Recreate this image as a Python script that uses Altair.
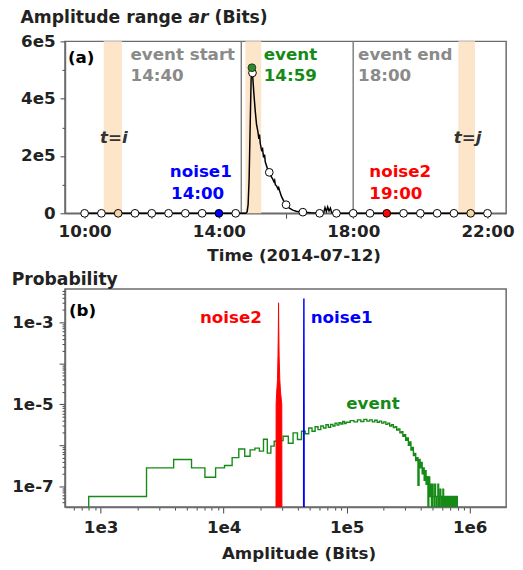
import altair as alt
import numpy as np
import pandas as pd

FONT = "DejaVu Sans"
INK = "#222222"
FRAME = "#6b6b6b"
GREEN = "#168a16"
GRAY_TXT = "#8a8a8a"
BAND = "#fde5ca"
TAN = "#f3d5a8"

# ---------------- panel (a): amplitude range time series ----------------
sample_hours = [10.0, 10.5, 11.0, 11.5, 12.0, 12.5, 13.0, 13.5, 14.0, 14.5, 15.0, 15.5,
                16.0, 16.5, 17.0, 17.5, 18.0, 18.5, 19.0, 19.5, 20.0, 20.5, 21.0, 21.5, 22.0]
sample_values = [0, 0, 0, 0, 0, 0, 0, 0, 0, 0, 4.9e5, 1.43e5,
                 0.3e5, 0.04e5, 0, 0, 0, 0, 0, 0, 0, 0, 0, 0, 0]
sample_fill = ["white", "white", TAN, "white", "white", "white", "white", "white", "blue", "white",
               "white", "white", "white", "white", "white", "white", "white", "white", "red", "white",
               "white", "white", "white", TAN, "white"]

line_hours = [10.0, 14.80, 14.84, 14.87, 14.90, 14.93, 14.96, 14.983, 15.0, 15.04, 15.08, 15.12,
              15.16, 15.19, 15.21, 15.23, 15.27, 15.30, 15.33, 15.36, 15.38, 15.42, 15.46, 15.50,
              15.55, 15.60, 15.64, 15.66, 15.68, 15.72, 15.76, 15.78, 15.81, 15.86, 15.92, 16.0,
              16.1, 16.2, 16.3, 16.5, 16.75, 17.0, 17.12, 17.16, 17.2, 17.24, 17.28, 17.32,
              17.36, 17.45, 18.0, 22.0]
line_values_e5 = [0, 0, 0.05, 0.3, 1.2, 3.0, 4.7, 5.08, 4.9, 4.2, 3.6, 3.1,
                  2.86, 2.6, 2.75, 2.45, 2.2, 2.25, 1.95, 2.05, 1.8, 1.65, 1.5, 1.43,
                  1.3, 1.2, 1.1, 1.15, 1.0, 0.95, 0.85, 0.9, 0.78, 0.6, 0.45, 0.3,
                  0.18, 0.11, 0.07, 0.04, 0.02, 0.01, 0.01, 0.2, 0.06, 0.22, 0.08, 0.18,
                  0.02, 0.0, 0, 0]

event_hour = [14 + 59 / 60]
event_value = [5.08e5]

band_start = [10.57, 14.79, 21.13]
band_end = [11.11, 15.26, 21.63]
marker_hours = [14 + 40 / 60, 18.0]

# ---------------- panel (b): amplitude histograms ----------------
low_width, mid_width, high_width = 1560, 3120, 7800
low_values = [5.6e-8, 2.8e-7, 4.5e-7, 2.8e-7, 1.65e-7, 2.8e-7, 3.2e-7, 5.0e-7, 8.1e-7, 5.4e-7,
              7.7e-7, 8.5e-7, 7.2e-7, 1.4e-6, 6.4e-7, 9.5e-7, 1.25e-6, 1.0e-6, 1.3e-6]
mid_values = [1.66e-6, 1.12e-6, 2.0e-6, 1.38e-6, 2.19e-6, 1.91e-6, 2.63e-6, 2.19e-6, 2.82e-6, 2.4e-6,
              2.95e-6, 2.63e-6, 3.16e-6, 2.75e-6, 3.24e-6, 2.95e-6, 3.47e-6, 3.09e-6, 3.55e-6, 3.31e-6,
              3.8e-6, 3.39e-6]
high_values = [3.63e-6, 3.98e-6, 3.72e-6, 4.17e-6, 3.80e-6, 4.27e-6, 3.89e-6, 4.17e-6, 3.72e-6, 4.07e-6,
               3.63e-6, 3.89e-6, 3.47e-6, 3.72e-6, 3.24e-6, 3.47e-6, 2.95e-6, 3.16e-6, 2.69e-6, 2.82e-6,
               2.34e-6, 2.51e-6, 2.0e-6, 2.14e-6, 1.66e-6, 1.82e-6, 1.32e-6, 1.51e-6, 1.0e-6, 1.2e-6,
               7.6e-7, 8.9e-7, 5.6e-7, 6.3e-7, 4.2e-7, 5.0e-7, 1.05e-7, 4.5e-7, 2.8e-7, 3.8e-7,
               2.0e-7, 2.8e-7, 1.4e-7, 2.4e-7, 1.12e-7, 1.7e-7, 0, 1.68e-7, 5.6e-8, 1.12e-7,
               0, 1.12e-7, 5.6e-8, 0, 1.12e-7, 5.6e-8, 0, 5.6e-8, 1.12e-7, 0,
               5.6e-8, 8.4e-8, 0, 5.6e-8, 0, 8.4e-8, 5.6e-8, 0, 5.6e-8, 0,
               5.6e-8, 5.6e-8, 0, 5.6e-8, 0, 5.6e-8, 0, 5.6e-8, 5.6e-8, 0,
               5.6e-8, 0, 5.6e-8, 0, 5.6e-8, 0, 5.6e-8, 0, 5.6e-8, 0]

noise2_amp = [26600, 26700, 27000, 27400, 27650, 27850, 27950, 28050, 28250, 28600, 29000, 29500, 29700, 29800]
noise2_p = [0, 1e-5, 2e-5, 4e-5, 1.5e-4, 8e-4, 3.0e-3, 8e-4, 1.5e-4, 4e-5, 2e-5, 1.2e-5, 1e-5, 0]
noise1_amp = [44700, 44760, 44900, 45040, 45100]
noise1_p = [0, 1e-5, 3.8e-3, 1e-5, 0]

FLOOR = 1e-9

# ---------------- build tables ----------------
df_samples = pd.DataFrame({"hour": sample_hours, "value": sample_values, "fill": sample_fill})
df_line = pd.DataFrame({"hour": line_hours, "value": [v * 1e5 for v in line_values_e5]})
df_event = pd.DataFrame({"hour": event_hour, "value": event_value})
df_bands = pd.DataFrame({"hour": band_start, "hour_end": band_end})
df_marks = pd.DataFrame({"hour": marker_hours})

edges_low = 800 + low_width * np.arange(len(low_values))
start_mid = 800 + low_width * len(low_values)
edges_mid = start_mid + mid_width * np.arange(len(mid_values))
start_high = start_mid + mid_width * len(mid_values)
edges_high = start_high + high_width * np.arange(len(high_values))
last_edge = start_high + high_width * len(high_values)
ev_left = list(edges_low) + list(edges_mid) + list(edges_high)
ev_vals = low_values + mid_values + high_values
ev_x = [ev_left[0]] + ev_left + [last_edge, last_edge]
ev_y = [0] + ev_vals + [ev_vals[-1], 0]
df_ev = pd.DataFrame({"amp": ev_x, "p": [max(v, FLOOR) for v in ev_y], "i": range(len(ev_x))})

df_n2 = pd.DataFrame({"amp": noise2_amp, "p": [max(v, FLOOR) for v in noise2_p], "floor": FLOOR})
df_n1 = pd.DataFrame({"amp": noise1_amp, "p": [max(v, FLOOR) for v in noise1_p], "floor": FLOOR})

xb_ticks = [k * 10.0 ** e for e in range(2, 7) for k in range(1, 10) if 513 <= k * 10.0 ** e <= 1.98e6]
yb_ticks = [k * 10.0 ** e for e in range(-8, -2) for k in range(1, 10) if 3.09e-8 <= k * 10.0 ** e <= 6.53e-3]

IS_POW = "abs(log(datum.value)/LN10 - round(log(datum.value)/LN10)) < 0.001"


def x_a():
    return alt.X("hour:Q", scale=alt.Scale(domain=[9.415, 22.556], nice=False, zero=False),
                 axis=alt.Axis(values=[10, 12, 14, 16, 18, 20, 22],
                               labelExpr="datum.value % 4 == 2 ? datum.value + ':00' : ''",
                               tickSize=5, labelPadding=6,
                               title="Time (2014-07-12)", titleX=232.7, titleY=48,
                               titleBaseline="alphabetic", titleAlign="center"))


def y_a():
    return alt.Y("value:Q", scale=alt.Scale(domain=[0, 6e5], nice=False),
                 axis=alt.Axis(values=[0, 1e5, 2e5, 3e5, 4e5, 5e5, 6e5],
                               labelExpr="datum.value == 0 ? '0' : (datum.value % 200000 == 0 ? (datum.value / 100000) + 'e5' : '')",
                               tickSize={"condition": {"test": "datum.value % 200000 == 0", "value": 5}, "value": 3},
                               labelPadding=5, title=None))


def x_b():
    return alt.X("amp:Q", scale=alt.Scale(type="log", domain=[513, 1.98e6], nice=False),
                 axis=alt.Axis(values=xb_ticks,
                               labelExpr=IS_POW + " ? '1e' + round(log(datum.value)/LN10) : ''",
                               tickSize={"condition": {"test": IS_POW, "value": 6}, "value": 3},
                               labelPadding=7,
                               title="Amplitude (Bits)", titleX=237.7, titleY=52,
                               titleBaseline="alphabetic", titleAlign="center"))


def y_b():
    return alt.Y("p:Q", scale=alt.Scale(type="log", domain=[3.09e-8, 6.53e-3], nice=False),
                 axis=alt.Axis(values=yb_ticks,
                               labelExpr="(" + IS_POW + " && abs(round(log(datum.value)/LN10)) % 2 == 1) ? '1e' + round(log(datum.value)/LN10) : ''",
                               tickSize={"condition": {"test": IS_POW, "value": 6}, "value": 3},
                               labelPadding=6, title=None))


def label(text, x, y, color, size=17, style="normal"):
    return alt.Chart(pd.DataFrame({"t": [text]})).mark_text(
        align="left", baseline="alphabetic", font=FONT, fontSize=size,
        fontWeight="bold", fontStyle=style, color=color
    ).encode(text="t:N", x=alt.value(x), y=alt.value(y))


bands = alt.Chart(df_bands).mark_rect(color=BAND).encode(
    x=x_a(), x2=alt.X2("hour_end:Q"), y=alt.value(0), y2=alt.value("height"))
vlines = alt.Chart(df_marks).mark_rule(color="#7f7f7f", strokeWidth=1.5).encode(x=x_a())
series = alt.Chart(df_line).mark_line(color="black", strokeWidth=1.5).encode(x=x_a(), y=y_a())
points = alt.Chart(df_samples).mark_circle(size=62, stroke="black", strokeWidth=1, opacity=1).encode(
    x=x_a(), y=y_a(), fill=alt.Fill("fill:N", scale=None))
evpt = alt.Chart(df_event).mark_circle(size=62, stroke="#1d3d1d", strokeWidth=1, fill="#2f8a2f", opacity=1).encode(
    x=x_a(), y=y_a())

texts_a = [
    label("Amplitude range", -45.3, -19, INK, 17.5),
    label("ar", 125.7, -19, INK, 17.5, "italic"),
    label("(Bits)", 152.2, -19, INK, 17.5),
    label("(a)", 3, 22, "black"),
    label("event start", 66.7, 19, GRAY_TXT),
    label("14:40", 66.7, 40, GRAY_TXT),
    label("event", 202.3, 19, GREEN),
    label("14:59", 202.3, 40, GREEN),
    label("event end", 298.3, 19, GRAY_TXT),
    label("18:00", 298.3, 40, GRAY_TXT),
    label("t=i", 35.7, 103.3, "#333333", 17, "italic"),
    label("t=j", 395.7, 103.3, "#333333", 17, "italic"),
    label("noise1", 106.7, 138, "blue"),
    label("14:00", 108, 160.7, "blue"),
    label("noise2", 309.7, 138, "red"),
    label("19:00", 309.7, 160.7, "red"),
]

panel_a = alt.layer(bands, vlines, series, points, evpt, *texts_a).properties(width=449, height=175)

n2 = alt.Chart(df_n2).mark_area(color="red", stroke="red", strokeWidth=1, opacity=1, clip=True).encode(
    x=x_b(), y=y_b(), y2=alt.Y2("floor:Q"))
n1 = alt.Chart(df_n1).mark_area(color="blue", stroke="blue", strokeWidth=1.5, opacity=1, clip=True).encode(
    x=x_b(), y=y_b(), y2=alt.Y2("floor:Q"))
evline = alt.Chart(df_ev).mark_line(interpolate="step-after", color=GREEN, strokeWidth=1.4, clip=True).encode(
    x=x_b(), y=y_b(), order=alt.Order("i:Q"))

texts_b = [
    label("Probability", -54.3, -4.5, INK, 17.5),
    label("(b)", 4, 27.3, "black"),
    label("noise2", 137.3, 34.7, "red"),
    label("noise1", 250, 34.7, "blue"),
    label("event", 286.3, 121.7, GREEN),
]

panel_b = alt.layer(evline, n2, n1, *texts_b).properties(width=449, height=222)

chart = alt.vconcat(panel_a, panel_b, spacing=5).properties(
    padding={"left": 2, "top": -5, "right": 0, "bottom": 0}
).configure_view(stroke=FRAME, strokeWidth=1.5).configure_axis(
    labelFont=FONT, labelFontSize=17, labelFontWeight="bold", labelColor=INK,
    titleFont=FONT, titleFontSize=17, titleFontWeight="bold", titleColor=INK,
    domainColor=FRAME, domainWidth=1.5, tickColor="#444444", tickWidth=1,
    grid=False, labelFlush=False, labelOverlap=False
)

chart.save("out.html", embed_options={"renderer": "svg", "actions": False})
